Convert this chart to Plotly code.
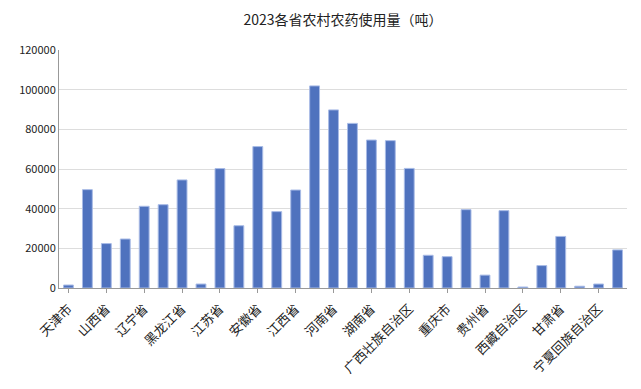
import plotly.graph_objects as go

provinces = ["天津市", "河北省", "山西省", "内蒙古自治区", "辽宁省", "吉林省", "黑龙江省", "上海市",
             "江苏省", "浙江省", "安徽省", "福建省", "江西省", "山东省", "河南省", "湖北省",
             "湖南省", "广东省", "广西壮族自治区", "海南省", "重庆市", "四川省", "贵州省", "云南省",
             "西藏自治区", "陕西省", "甘肃省", "青海省", "宁夏回族自治区", "新疆维吾尔自治区"]
usage = [1500, 49600, 22400, 24700, 41200, 42000, 54500, 2000,
         60200, 31400, 71300, 38500, 49400, 101900, 89800, 83000,
         74600, 74300, 60300, 16500, 15800, 39500, 6500, 39000,
         500, 11300, 26000, 900, 2000, 19200]
shown_labels = provinces[::2]
y_ticks = [0, 20000, 40000, 60000, 80000, 100000, 120000]

fig = go.Figure(go.Bar(
    x=provinces, y=usage,
    marker=dict(color="#4f72be", line=dict(color="#a8bbe6", width=1)),
))
fig.update_layout(
    width=625, height=373,
    margin=dict(l=51, r=6, t=42, b=93, autoexpand=False),
    paper_bgcolor="white", plot_bgcolor="white",
    font=dict(family="Noto Sans CJK SC, Noto Sans, sans-serif", color="#333333"),
    title=dict(text="2023各省农村农药使用量（吨）", x=0.5, xanchor="center",
               xref="paper", yref="container", y=0.968, yanchor="middle",
               font=dict(size=14, color="#222222"), automargin=False),
    bargap=0.48,
    showlegend=False,
)
fig.update_xaxes(
    tickmode="array", tickvals=shown_labels, ticktext=shown_labels,
    tickangle=-45, tickfont=dict(size=13, color="#222222"),
    ticks="outside", ticklen=4, tickcolor="#999999", ticklabelstandoff=3,
    showline=True, linecolor="#999999", linewidth=1,
    showgrid=False, automargin=False,
)
fig.update_yaxes(
    range=[0, 120000], tickvals=y_ticks, tickformat="d",
    tickfont=dict(size=11, color="#222222"),
    showgrid=True, gridcolor="#dddddd", gridwidth=1,
    showline=True, linecolor="#999999", linewidth=1,
    zeroline=False, ticks="", automargin=False,
)
fig.write_html("out.html")
